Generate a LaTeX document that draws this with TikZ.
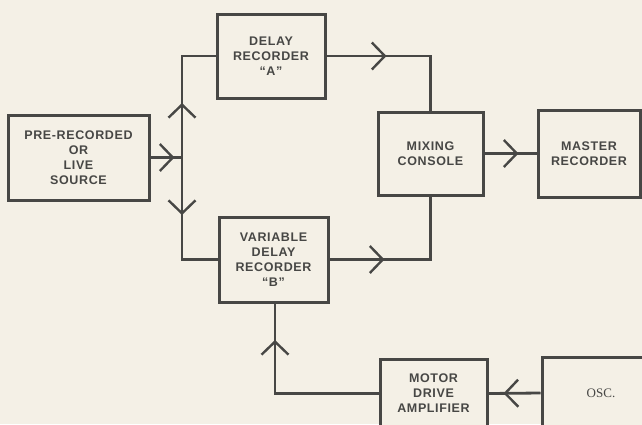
\documentclass[tikz,border=0pt]{standalone}
\usepackage{fontspec}
\setmainfont{Liberation Sans}[LetterSpace=5]
\newfontfamily\oscfont{Liberation Serif}
\usetikzlibrary{arrows.meta,decorations.markings}
\definecolor{ink}{HTML}{474745}
\definecolor{paper}{HTML}{F4F0E6}
\tikzset{
  blk/.style={draw=ink, line width=3pt, fill=paper, align=center, text=ink,
    font=\fontsize{12.5}{15}\selectfont\bfseries, inner sep=0pt},
  wire/.style={draw=ink, line width=2.8pt},
  chev/.style={postaction={decorate, decoration={markings,
    mark=at position #1 with {\arrow[ink, line width=2.4pt]{Straight Barb[length=13pt,width=27pt]}}}}}
}
\begin{document}
\begin{tikzpicture}[x=1pt,y=-1pt]
\fill[paper] (0,0) rectangle (642,424);
\useasboundingbox (0,0) rectangle (642,424);
\node[blk, minimum width=141pt, minimum height=85pt] (src) at (78.5,157.5) {PRE-RECORDED\\OR\\LIVE\\SOURCE};
\node[blk, minimum width=108pt, minimum height=84pt] (A) at (271,56) {DELAY\\RECORDER\\“A”};
\node[blk, minimum width=109pt, minimum height=85pt] (B) at (273.5,259.5) {VARIABLE\\DELAY\\RECORDER\\“B”};
\node[blk, minimum width=105pt, minimum height=83pt] (mix) at (430.5,153.5) {MIXING\\CONSOLE};
\node[blk, minimum width=102pt, minimum height=87pt] (master) at (589,153.5) {MASTER\\RECORDER};
\node[blk, minimum width=107pt, minimum height=69pt] (motor) at (433.5,393.5) {MOTOR\\DRIVE\\AMPLIFIER};
\node[blk, minimum width=118pt, minimum height=72pt, font=\oscfont\fontsize{13}{15}\selectfont] (osc) at (601,393) {OSC.};
\coordinate (j) at (182,157.5);
\draw[wire, chev=24pt] (src.east) -- (j);
\draw[wire, chev=54.5pt] (j) |- (A.west);
\draw[wire, chev=57.5pt] (j) |- (B.west);
\draw[wire, chev=60pt] (A.east) -| (mix.north);
\draw[wire, chev=55pt] (B.east) -| (mix.south);
\draw[wire, chev=34pt] (mix.east) -- (master.west);
\draw[wire, chev=37pt] (osc.west) -- (motor.east);
\draw[wire, chev=157pt] (motor.west) -| ([xshift=1.5pt]B.south);
\end{tikzpicture}
\end{document}
